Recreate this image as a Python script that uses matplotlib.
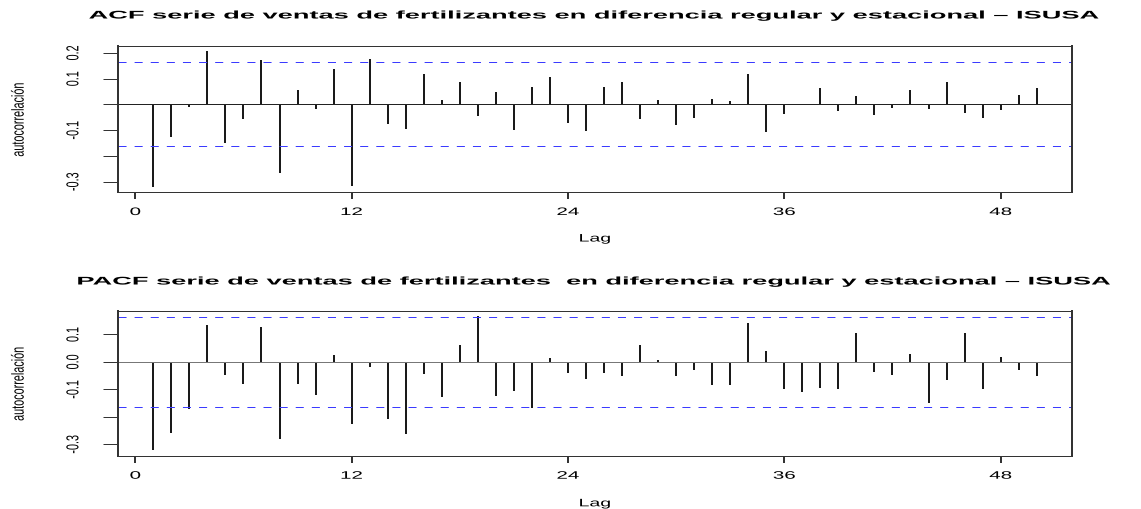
import matplotlib
matplotlib.use("Agg")
import matplotlib.pyplot as plt
from matplotlib.patheffects import AbstractPathEffect
from matplotlib.transforms import Affine2D

# data
lags = list(range(1, 51))
acf_vals = [-0.319, -0.128, -0.010, 0.206, -0.149, -0.058, 0.172, -0.267, 0.058, -0.017,
            0.139, -0.315, 0.176, -0.075, -0.095, 0.119, 0.019, 0.086, -0.044, 0.048,
            -0.099, 0.069, 0.105, -0.071, -0.102, 0.066, 0.087, -0.056, 0.019, -0.078,
            -0.053, 0.023, 0.013, 0.117, -0.108, -0.039, -0.004, 0.064, -0.025, 0.031,
            -0.040, -0.013, 0.056, -0.016, 0.087, -0.035, -0.053, -0.021, 0.035, 0.065]
pacf_vals = [-0.322, -0.258, -0.170, 0.133, -0.047, -0.079, 0.126, -0.282, -0.082, -0.119,
             0.025, -0.226, -0.020, -0.208, -0.262, -0.043, -0.126, 0.060, 0.167, -0.125,
             -0.107, -0.167, 0.014, -0.042, -0.064, -0.040, -0.052, 0.060, 0.008, -0.053,
             -0.028, -0.085, -0.085, 0.142, 0.040, -0.097, -0.109, -0.095, -0.100, 0.106,
             -0.038, -0.047, 0.028, -0.148, -0.067, 0.107, -0.098, 0.018, -0.029, -0.053]
ci = 0.163
xticks = [0, 12, 24, 36, 48]
acf_yticks = [-0.3, -0.2, -0.1, 0.0, 0.1, 0.2]
acf_yticklabels = ['-0.3', '', '-0.1', '', '0.1', '0.2']
pacf_yticks = [-0.3, -0.2, -0.1, 0.0, 0.1]
pacf_yticklabels = ['-0.3', '', '-0.1', '0.0', '0.1']
acf_title = "ACF serie de ventas de fertilizantes en diferencia regular y estacional \u2013 ISUSA"
pacf_title = "PACF serie de ventas de fertilizantes  en diferencia regular y estacional \u2013 ISUSA"
ylab = "autocorrelación"
xlab = "Lag"


class Widen(AbstractPathEffect):
    # the reference text is stretched sideways; stretch glyphs about their centre
    def __init__(self, sx):
        super().__init__()
        self.sx = sx

    def draw_path(self, renderer, gc, tpath, affine, rgbFace=None):
        ext = tpath.get_extents(affine)
        cx = (ext.x0 + ext.x1) / 2
        t = affine + Affine2D().translate(-cx, 0).scale(self.sx, 1).translate(cx, 0)
        renderer.draw_path(gc, tpath, t, rgbFace)


plt.rcParams['font.family'] = 'Liberation Sans'
plt.rcParams['lines.scale_dashes'] = False

W, H = 1141, 510
fig = plt.figure(figsize=(W / 100, H / 100), dpi=100)


def panel(top, bottom, vals, ytk, ytl, zero_col, title, title_y, lag_y):
    ax = fig.add_axes([118 / W, 1 - bottom / H, 954 / W, (bottom - top) / H])
    ax.vlines(lags, 0, vals, colors='#1a1a1a', lw=1.44)
    ax.axhline(0, color=zero_col, lw=0.72)
    for c in (ci, -ci):
        ax.axhline(c, color='#3b3bff', lw=0.72, dashes=(5.8, 5.8))
    lo = min(min(vals), -ci)
    hi = max(max(vals), ci)
    pad = 0.04 * (hi - lo)
    ax.set_ylim(lo - pad, hi + pad)
    xpad = 0.04 * (lags[-1] - lags[0])
    ax.set_xlim(lags[0] - xpad, lags[-1] + xpad)

    for s in ['left', 'right']:
        ax.spines[s].set_linewidth(1.44)
    for s in ['top', 'bottom']:
        ax.spines[s].set_linewidth(0.72)
    for s in ax.spines.values():
        s.set_color('#333333')

    ax.set_xticks(xticks, [str(x) for x in xticks])
    ax.set_yticks(ytk, ytl)
    ax.tick_params(axis='x', length=5.0, width=1.44, pad=5.8, labelsize=7.8, color='#333333')
    ax.tick_params(axis='y', length=10.8, width=0.72, pad=17.9, labelsize=7.8, color='#333333')
    for t in ax.get_xticklabels():
        t.set_path_effects([Widen(1.9)])
    for t in ax.get_yticklabels():
        t.set_rotation(90)
        t.set_va('center')
        t.set_path_effects([Widen(1.6)])

    fig.text(595 / W, 1 - title_y / H, title, ha='center', va='center',
             fontsize=8, fontweight='bold', path_effects=[Widen(2.45)])
    fig.text(595 / W, 1 - lag_y / H, xlab, ha='center', va='baseline',
             fontsize=7.8, path_effects=[Widen(1.8)])
    fig.text(18.3 / W, 1 - (top + bottom) / 2 / H, ylab, ha='center', va='center',
             rotation=90, fontsize=7.8, path_effects=[Widen(1.6)])
    return ax


panel(47, 193, acf_vals, acf_yticks, acf_yticklabels, '#222222', acf_title, 16.5, 242.5)
panel(311.7, 456.7, pacf_vals, pacf_yticks, pacf_yticklabels, '#777777', pacf_title, 282.5, 507.3)

fig.savefig('out.png', dpi=100)
